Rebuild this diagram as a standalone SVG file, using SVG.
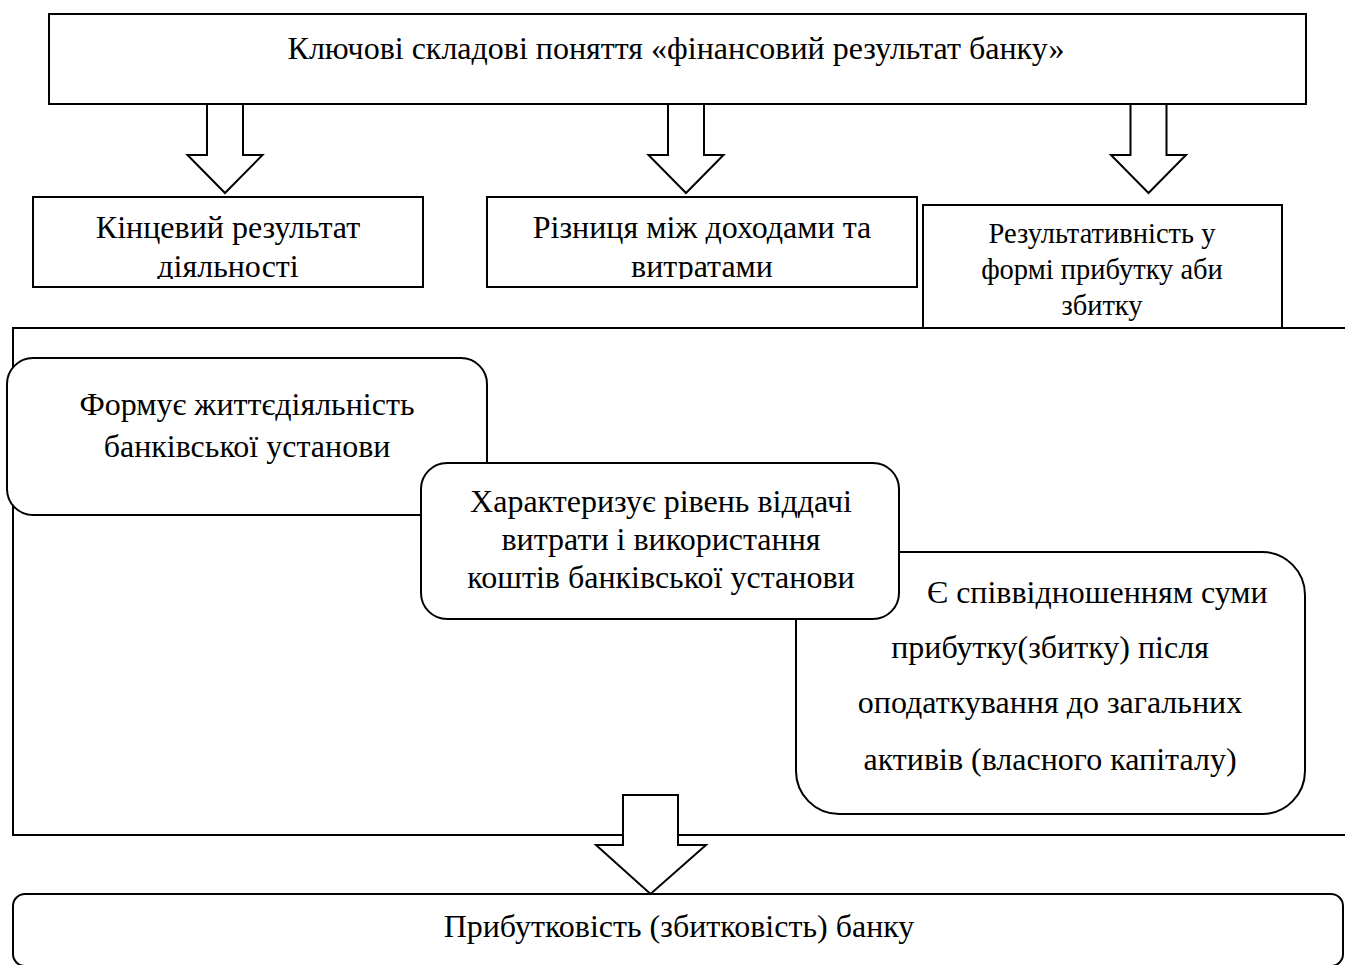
<svg xmlns="http://www.w3.org/2000/svg" width="1345" height="965" viewBox="0 0 1345 965">
<style>
.box{fill:#fff;stroke:#000;stroke-width:2}
.arr{fill:#fff;stroke:#000;stroke-width:2;stroke-linejoin:miter}
.t{font-family:"Liberation Serif","Times New Roman",serif;fill:#000;text-anchor:middle}
.f32{font-size:32px}
.f28{font-size:28.5px}
</style>
<defs>
<clipPath id="clipRow"><rect x="0" y="190" width="1345" height="89"/></clipPath>
</defs>
<rect width="1345" height="965" fill="#fff"/>

<g id="title">
<rect class="box" x="49" y="14" width="1257" height="90"/>
<text class="t f32" x="676" y="59">Ключові складові поняття «фінансовий результат банку»</text>
</g>

<g id="container">
<rect class="box" x="13" y="328" width="1345" height="507"/>
</g>

<g id="kinc">
<rect class="box" x="33" y="197" width="390" height="90"/>
<g clip-path="url(#clipRow)">
<text class="t f32" x="228" y="238">Кінцевий результат</text>
<text class="t f32" x="228" y="277">діяльності</text>
</g>
</g>

<g id="riznytsia">
<rect class="box" x="487" y="197" width="430" height="90"/>
<g clip-path="url(#clipRow)">
<text class="t f32" x="702" y="238">Різниця між доходами та</text>
<text class="t f32" x="702" y="277">витратами</text>
</g>
</g>

<g id="rezult">
<rect class="box" x="923" y="205" width="359" height="123"/>
<text class="t f28" x="1102" y="243">Результативність у</text>
<text class="t f28" x="1102" y="279">формі прибутку аби</text>
<text class="t f28" x="1102" y="315">збитку</text>
</g>

<g id="formuie">
<rect class="box" x="7" y="358" width="480" height="157" rx="26" ry="26"/>
<text class="t f32" x="247" y="415">Формує життєдіяльність</text>
<text class="t f32" x="247" y="457">банківської установи</text>
</g>

<g id="spivvidnoshennia">
<rect class="box" x="796" y="552" width="509" height="262" rx="43" ry="43"/>
<text class="t f32" x="927" y="603" style="text-anchor:start">Є співвідношенням суми</text>
<text class="t f32" x="1050" y="658">прибутку(збитку) після</text>
<text class="t f32" x="1050" y="713">оподаткування до загальних</text>
<text class="t f32" x="1050" y="770">активів (власного капіталу)</text>
</g>

<g id="kharakteryzuie">
<rect class="box" x="421" y="463" width="478" height="156" rx="26" ry="26"/>
<text class="t f32" x="661" y="512">Характеризує рівень віддачі</text>
<text class="t f32" x="661" y="550">витрати і використання</text>
<text class="t f32" x="661" y="588">коштів банківської установи</text>
</g>

<g id="prybutkovist">
<rect class="box" x="13" y="894" width="1330" height="72" rx="12" ry="12"/>
<text class="t f32" x="679" y="937">Прибутковість (збитковість) банку</text>
</g>

<g id="connectors">
<polygon class="arr" points="207,104 243,104 243,155 262.5,155 225,193 187.5,155 207,155"/>
<polygon class="arr" points="668,104 704,104 704,155 723.5,155 686,193 648.5,155 668,155"/>
<polygon class="arr" points="1130.5,104 1166.5,104 1166.5,155 1186,155 1148.5,193 1111,155 1130.5,155"/>
<polygon class="arr" points="623,795 678,795 678,845 706,845 650.5,894 596,845 623,845"/>
</g>
</svg>
